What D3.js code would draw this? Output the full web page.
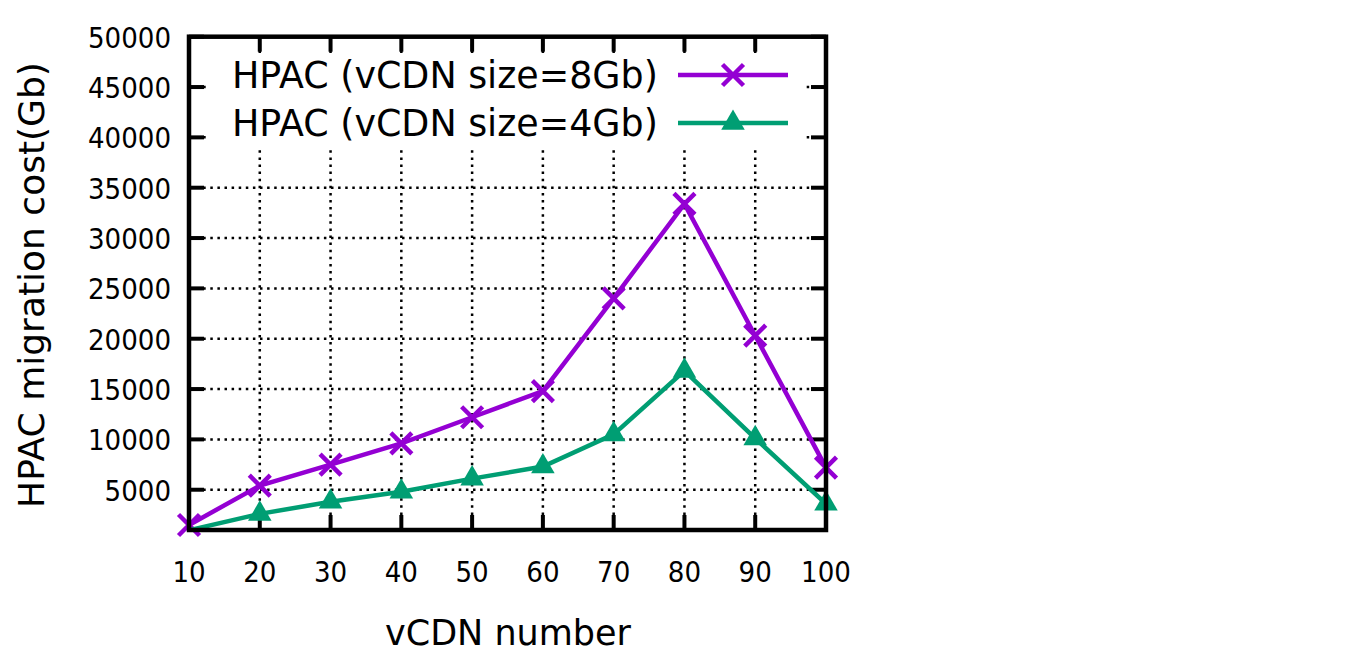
<!DOCTYPE html>
<html>
<head>
<meta charset="utf-8">
<script src="https://cdn.jsdelivr.net/npm/d3@7"></script>
<style>
  html, body { margin: 0; padding: 0; background: #fff; }
  svg { display: block; font-family: "DejaVu Sans", sans-serif; }
  .ticklabel { font-family: "DejaVu Sans Condensed", "DejaVu Sans", sans-serif; font-stretch: condensed; }
</style>
</head>
<body>
<div id="chart"></div>
<script>
const width = 1366;
const height = 658;

// data
const vcdnNumbers = [10, 20, 30, 40, 50, 60, 70, 80, 90, 100];
const cost8Gb = [1500, 5400, 7500, 9600, 12200, 14800, 24000, 33400, 20300, 7200];
const cost4Gb = [980, 2600, 3800, 4800, 6100, 7300, 10500, 16800, 10100, 3600];
const seriesNames = ["HPAC (vCDN size=8Gb)", "HPAC (vCDN size=4Gb)"];
const yTicks = [5000, 10000, 15000, 20000, 25000, 30000, 35000, 40000, 45000, 50000];
const xTicks = [10, 20, 30, 40, 50, 60, 70, 80, 90, 100];

const purple = "#9400d3";
const green = "#009e73";

const plotLeft = 189, plotRight = 826, plotTop = 36.7, plotBottom = 530;

const x = d3.scaleLinear().domain([10, 100]).range([plotLeft, plotRight]);
const y = d3.scaleLinear().domain([1000, 50000]).range([plotBottom, plotTop]);

const svg = d3.select("#chart").append("svg")
    .attr("width", width)
    .attr("height", height);

svg.append("defs").append("clipPath")
    .attr("id", "plot-clip")
    .append("rect")
    .attr("x", plotLeft).attr("y", plotTop)
    .attr("width", plotRight - plotLeft).attr("height", plotBottom - plotTop);

// dotted grid
const grid = svg.append("g")
    .attr("stroke", "#000")
    .attr("stroke-width", 2.5)
    .attr("stroke-dasharray", "2.5,4.6");

grid.selectAll("line.vgrid")
    .data(xTicks.slice(1, -1))
    .enter().append("line")
    .attr("x1", d => x(d)).attr("x2", d => x(d))
    .attr("y1", plotTop).attr("y2", plotBottom);

grid.selectAll("line.hgrid")
    .data(yTicks.slice(0, -1))
    .enter().append("line")
    .attr("x1", plotLeft).attr("x2", plotRight)
    .attr("y1", d => y(d)).attr("y2", d => y(d));

// opaque legend box hides the grid behind it
svg.append("rect")
    .attr("x", 209).attr("y", 53)
    .attr("width", 597).attr("height", 97)
    .attr("fill", "#fff");

// ticks (inward, mirrored on all four sides)
const tickLen = 15;
const ticks = svg.append("g").attr("stroke", "#000").attr("stroke-width", 4);

ticks.selectAll("line.xb")
    .data(xTicks)
    .enter().append("line")
    .attr("x1", d => x(d)).attr("x2", d => x(d))
    .attr("y1", plotBottom).attr("y2", plotBottom - tickLen);
ticks.selectAll("line.xt")
    .data(xTicks)
    .enter().append("line")
    .attr("x1", d => x(d)).attr("x2", d => x(d))
    .attr("y1", plotTop).attr("y2", plotTop + tickLen);
ticks.selectAll("line.yl")
    .data(yTicks)
    .enter().append("line")
    .attr("x1", plotLeft).attr("x2", plotLeft + tickLen)
    .attr("y1", d => y(d)).attr("y2", d => y(d));
ticks.selectAll("line.yr")
    .data(yTicks)
    .enter().append("line")
    .attr("x1", plotRight).attr("x2", plotRight - tickLen)
    .attr("y1", d => y(d)).attr("y2", d => y(d));

// series lines and points
const line = d3.line()
    .x(d => x(d[0]))
    .y(d => y(d[1]));

const series = [
    { name: seriesNames[0], values: cost8Gb, color: purple, symbol: "cross" },
    { name: seriesNames[1], values: cost4Gb, color: green, symbol: "triangle" }
];

function drawMarker(g, kind, color) {
    if (kind === "cross") {
        const s = 10.5;
        g.append("path")
            .attr("d", `M${-s},${-s}L${s},${s}M${-s},${s}L${s},${-s}`)
            .attr("stroke", color)
            .attr("stroke-width", 4.5)
            .attr("fill", "none");
    } else {
        g.append("path")
            .attr("d", d3.symbol().type(d3.symbolTriangle).size(240)())
            .attr("fill", color);
    }
}

series.forEach(s => {
    const pts = vcdnNumbers.map((v, i) => [v, s.values[i]]);

    svg.append("path")
        .datum(pts)
        .attr("clip-path", "url(#plot-clip)")
        .attr("d", line)
        .attr("fill", "none")
        .attr("stroke", s.color)
        .attr("stroke-width", 4.5)
        .attr("stroke-linejoin", "miter");

    // gnuplot skips points that fall outside the y range
    pts.filter(p => p[1] >= y.domain()[0]).forEach(p => {
        const g = svg.append("g").attr("transform", `translate(${x(p[0])},${y(p[1])})`);
        drawMarker(g, s.symbol, s.color);
    });
});

// border
svg.append("rect")
    .attr("x", plotLeft).attr("y", plotTop)
    .attr("width", plotRight - plotLeft).attr("height", plotBottom - plotTop)
    .attr("fill", "none")
    .attr("stroke", "#000")
    .attr("stroke-width", 4.5);

// tick labels
svg.append("g")
    .attr("class", "ticklabel")
    .attr("font-size", 29)
    .attr("text-anchor", "end")
    .selectAll("text")
    .data(yTicks)
    .enter().append("text")
    .attr("x", 171)
    .attr("y", d => y(d) + 11)
    .text(d => d);

svg.append("g")
    .attr("class", "ticklabel")
    .attr("font-size", 29)
    .attr("text-anchor", "middle")
    .selectAll("text")
    .data(xTicks)
    .enter().append("text")
    .attr("x", d => x(d))
    .attr("y", 582)
    .text(d => d);

// axis titles
svg.append("text")
    .attr("x", 508)
    .attr("y", 645)
    .attr("font-size", 35)
    .attr("text-anchor", "middle")
    .text("vCDN number");

svg.append("text")
    .attr("transform", "translate(44,285) rotate(-90)")
    .attr("font-size", 36)
    .attr("text-anchor", "middle")
    .text("HPAC migration cost(Gb)");

// legend
series.forEach((s, i) => {
    const ly = 75 + i * 48;
    svg.append("text")
        .attr("x", 232)
        .attr("y", ly + 13)
        .attr("font-size", 36.4)
        .text(s.name);
    svg.append("line")
        .attr("x1", 678).attr("x2", 788)
        .attr("y1", ly).attr("y2", ly)
        .attr("stroke", s.color)
        .attr("stroke-width", 4.5);
    const g = svg.append("g").attr("transform", `translate(733,${ly})`);
    drawMarker(g, s.symbol, s.color);
});
</script>
</body>
</html>
